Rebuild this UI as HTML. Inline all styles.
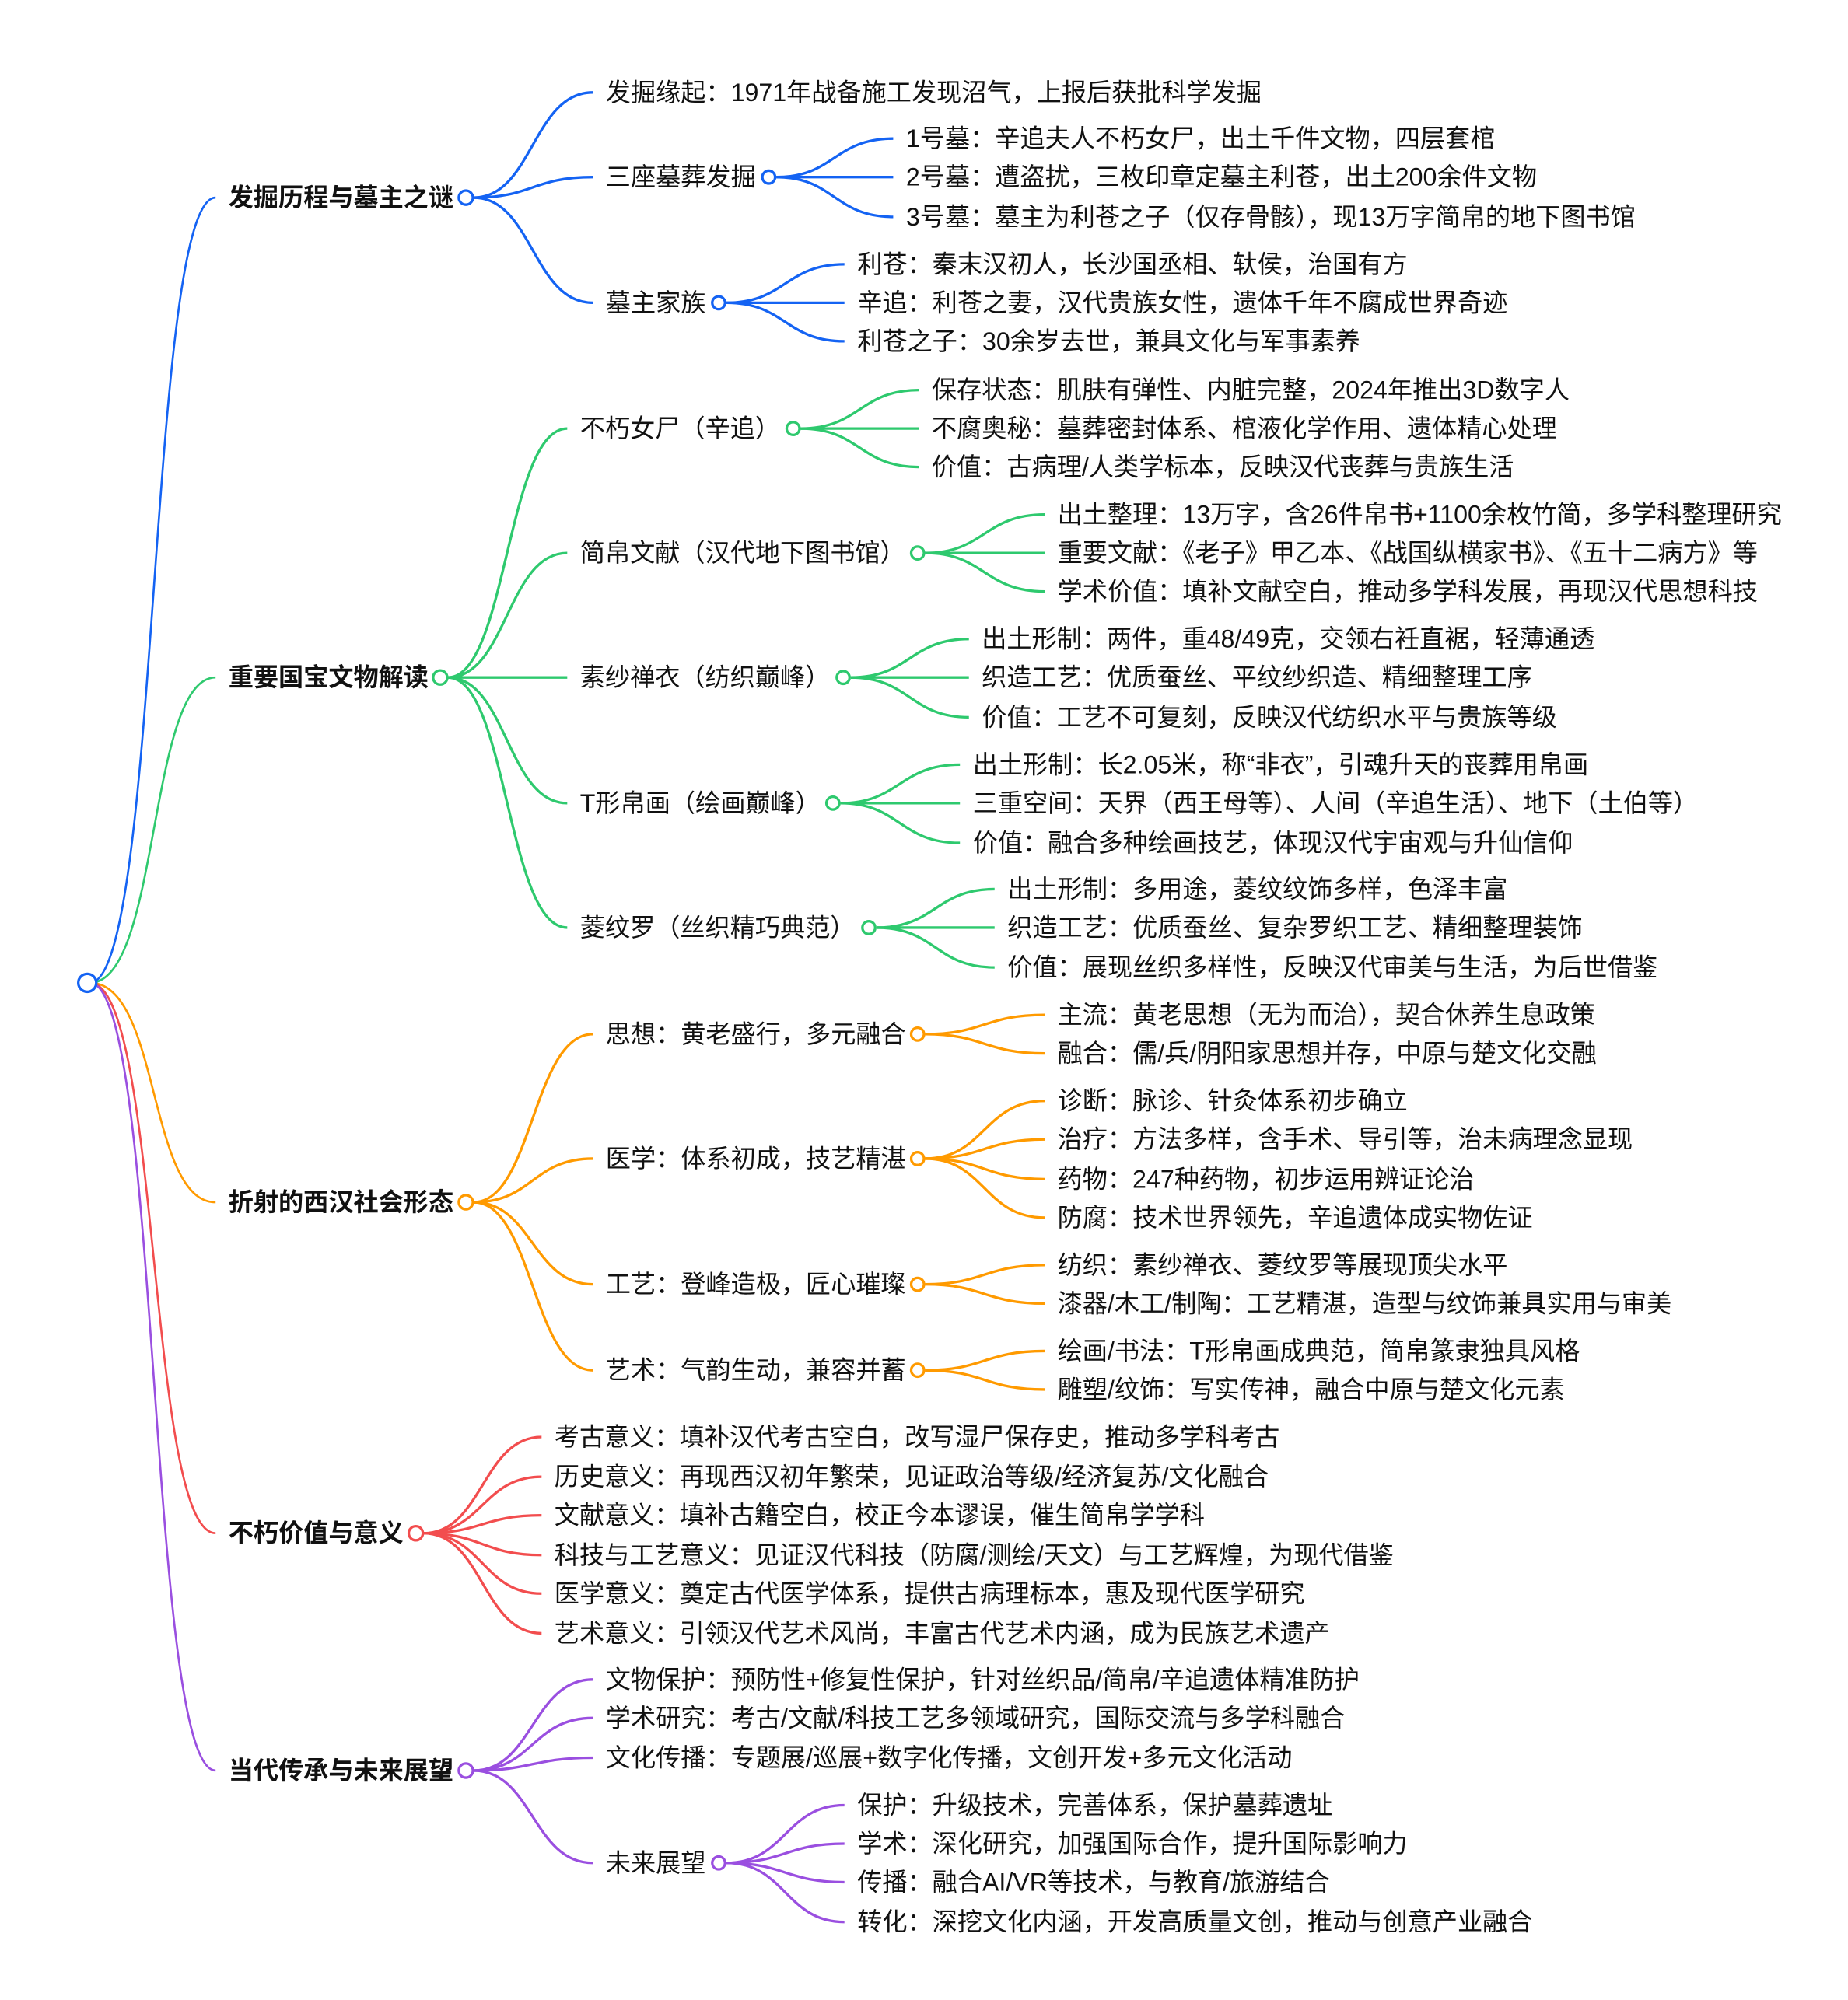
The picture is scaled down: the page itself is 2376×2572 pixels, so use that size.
<!DOCTYPE html>
<html><head><meta charset="utf-8"><style>
html,body{margin:0;padding:0;background:#fff;}
svg{display:block;}
text{font-family:"Liberation Sans","Noto Sans CJK SC",sans-serif;font-size:19.5px;fill:#111;dominant-baseline:central;}
.b{font-weight:bold;}
path{fill:none;}
.bl{stroke:#1463f3}.gr{stroke:#2ec96e}.or{stroke:#ff9a00}.rd{stroke:#f24d4e}.pu{stroke:#9a4fe0}
circle{fill:#fff;stroke-width:2;}
</style></head><body>
<svg width="2376" height="2572" viewBox="0 0 1440 1558.8" xmlns="http://www.w3.org/2000/svg">
<!-- root edges -->
<g stroke-width="1.6">
<path class="bl" d="M70 766 C125 766 115 154 168 154"/>
<path class="gr" d="M70 766 C125 766 115 528 168 528"/>
<path class="or" d="M70 766 C125 766 115 937 168 937"/>
<path class="rd" d="M70 766 C125 766 115 1195 168 1195"/>
<path class="pu" d="M70 766 C125 766 115 1380 168 1380"/>
</g>
<g stroke-width="2">
<!-- blue -->
<path class="bl" d="M369 154 C415 154 415 72 462 72"/>
<path class="bl" d="M369 154 C415 154 415 138 462 138"/>
<path class="bl" d="M369 154 C415 154 415 236 462 236"/>
<path class="bl" d="M605 138 C650 138 650 108 696 108"/>
<path class="bl" d="M605 138 C650 138 650 138 696 138"/>
<path class="bl" d="M605 138 C650 138 650 169 696 169"/>
<path class="bl" d="M566 236 C612 236 612 206 658 206"/>
<path class="bl" d="M566 236 C612 236 612 236 658 236"/>
<path class="bl" d="M566 236 C612 236 612 266 658 266"/>
<!-- green -->
<path class="gr" d="M349 528 C395 528 395 334 442 334"/>
<path class="gr" d="M349 528 C395 528 395 431 442 431"/>
<path class="gr" d="M349 528 C395 528 395 528 442 528"/>
<path class="gr" d="M349 528 C395 528 395 626 442 626"/>
<path class="gr" d="M349 528 C395 528 395 723 442 723"/>
<path class="gr" d="M624 334 C670 334 670 304 716 304"/>
<path class="gr" d="M624 334 C670 334 670 334 716 334"/>
<path class="gr" d="M624 334 C670 334 670 364 716 364"/>
<path class="gr" d="M721 431 C767 431 767 401 814 401"/>
<path class="gr" d="M721 431 C767 431 767 431 814 431"/>
<path class="gr" d="M721 431 C767 431 767 461 814 461"/>
<path class="gr" d="M663 528 C709 528 709 498 755 498"/>
<path class="gr" d="M663 528 C709 528 709 528 755 528"/>
<path class="gr" d="M663 528 C709 528 709 559 755 559"/>
<path class="gr" d="M655 626 C701 626 701 596 748 596"/>
<path class="gr" d="M655 626 C701 626 701 626 748 626"/>
<path class="gr" d="M655 626 C701 626 701 657 748 657"/>
<path class="gr" d="M683 723 C729 723 729 693 775 693"/>
<path class="gr" d="M683 723 C729 723 729 723 775 723"/>
<path class="gr" d="M683 723 C729 723 729 754 775 754"/>
<!-- orange -->
<path class="or" d="M369 937 C415 937 415 806 462 806"/>
<path class="or" d="M369 937 C415 937 415 903 462 903"/>
<path class="or" d="M369 937 C415 937 415 1001 462 1001"/>
<path class="or" d="M369 937 C415 937 415 1068 462 1068"/>
<path class="or" d="M721 806 C767 806 767 791 814 791"/>
<path class="or" d="M721 806 C767 806 767 821 814 821"/>
<path class="or" d="M721 903 C767 903 767 858 814 858"/>
<path class="or" d="M721 903 C767 903 767 888 814 888"/>
<path class="or" d="M721 903 C767 903 767 919 814 919"/>
<path class="or" d="M721 903 C767 903 767 949 814 949"/>
<path class="or" d="M721 1001 C767 1001 767 986 814 986"/>
<path class="or" d="M721 1001 C767 1001 767 1016 814 1016"/>
<path class="or" d="M721 1068 C767 1068 767 1053 814 1053"/>
<path class="or" d="M721 1068 C767 1068 767 1083 814 1083"/>
<!-- red -->
<path class="rd" d="M330 1195 C376 1195 376 1120 422 1120"/>
<path class="rd" d="M330 1195 C376 1195 376 1151 422 1151"/>
<path class="rd" d="M330 1195 C376 1195 376 1181 422 1181"/>
<path class="rd" d="M330 1195 C376 1195 376 1212 422 1212"/>
<path class="rd" d="M330 1195 C376 1195 376 1242 422 1242"/>
<path class="rd" d="M330 1195 C376 1195 376 1273 422 1273"/>
<!-- purple -->
<path class="pu" d="M369 1380 C415 1380 415 1309 462 1309"/>
<path class="pu" d="M369 1380 C415 1380 415 1339 462 1339"/>
<path class="pu" d="M369 1380 C415 1380 415 1370 462 1370"/>
<path class="pu" d="M369 1380 C415 1380 415 1452 462 1452"/>
<path class="pu" d="M566 1452 C612 1452 612 1407 658 1407"/>
<path class="pu" d="M566 1452 C612 1452 612 1437 658 1437"/>
<path class="pu" d="M566 1452 C612 1452 612 1467 658 1467"/>
<path class="pu" d="M566 1452 C612 1452 612 1498 658 1498"/>
</g>
<!-- circles -->
<circle cx="68" cy="766" r="7" stroke="#1463f3"/>
<circle cx="363" cy="154" r="5.5" stroke="#1463f3"/>
<circle cx="599" cy="138" r="5" stroke="#1463f3"/>
<circle cx="560" cy="236" r="5" stroke="#1463f3"/>
<circle cx="343" cy="528" r="5.5" stroke="#2ec96e"/>
<circle cx="618" cy="334" r="5" stroke="#2ec96e"/>
<circle cx="715" cy="431" r="5" stroke="#2ec96e"/>
<circle cx="657" cy="528" r="5" stroke="#2ec96e"/>
<circle cx="649" cy="626" r="5" stroke="#2ec96e"/>
<circle cx="677" cy="723" r="5" stroke="#2ec96e"/>
<circle cx="363" cy="937" r="5.5" stroke="#ff9a00"/>
<circle cx="715" cy="806" r="5" stroke="#ff9a00"/>
<circle cx="715" cy="903" r="5" stroke="#ff9a00"/>
<circle cx="715" cy="1001" r="5" stroke="#ff9a00"/>
<circle cx="715" cy="1068" r="5" stroke="#ff9a00"/>
<circle cx="324" cy="1195" r="5.5" stroke="#f24d4e"/>
<circle cx="363" cy="1380" r="5.5" stroke="#9a4fe0"/>
<circle cx="560" cy="1452" r="5" stroke="#9a4fe0"/>
<!-- level1 -->
<text class="b" x="178" y="154">发掘历程与墓主之谜</text>
<text class="b" x="178" y="528">重要国宝文物解读</text>
<text class="b" x="178" y="937">折射的西汉社会形态</text>
<text class="b" x="178" y="1195">不朽价值与意义</text>
<text class="b" x="178" y="1380">当代传承与未来展望</text>
<!-- blue texts -->
<text x="472" y="72">发掘缘起：1971年战备施工发现沼气，上报后获批科学发掘</text>
<text x="472" y="138">三座墓葬发掘</text>
<text x="472" y="236">墓主家族</text>
<text x="706" y="108">1号墓：辛追夫人不朽女尸，出土千件文物，四层套棺</text>
<text x="706" y="138">2号墓：遭盗扰，三枚印章定墓主利苍，出土200余件文物</text>
<text x="706" y="169">3号墓：墓主为利苍之子（仅存骨骸），现13万字简帛的地下图书馆</text>
<text x="668" y="206">利苍：秦末汉初人，长沙国丞相、轪侯，治国有方</text>
<text x="668" y="236">辛追：利苍之妻，汉代贵族女性，遗体千年不腐成世界奇迹</text>
<text x="668" y="266">利苍之子：30余岁去世，兼具文化与军事素养</text>
<!-- green texts -->
<text x="452" y="334">不朽女尸（辛追）</text>
<text x="452" y="431">简帛文献（汉代地下图书馆）</text>
<text x="452" y="528">素纱禅衣（纺织巅峰）</text>
<text x="452" y="626">T形帛画（绘画巅峰）</text>
<text x="452" y="723">菱纹罗（丝织精巧典范）</text>
<text x="726" y="304">保存状态：肌肤有弹性、内脏完整，2024年推出3D数字人</text>
<text x="726" y="334">不腐奥秘：墓葬密封体系、棺液化学作用、遗体精心处理</text>
<text x="726" y="364">价值：古病理/人类学标本，反映汉代丧葬与贵族生活</text>
<text x="824" y="401">出土整理：13万字，含26件帛书+1100余枚竹简，多学科整理研究</text>
<text x="824" y="431">重要文献：《老子》甲乙本、《战国纵横家书》、《五十二病方》等</text>
<text x="824" y="461">学术价值：填补文献空白，推动多学科发展，再现汉代思想科技</text>
<text x="765" y="498">出土形制：两件，重48/49克，交领右衽直裾，轻薄通透</text>
<text x="765" y="528">织造工艺：优质蚕丝、平纹纱织造、精细整理工序</text>
<text x="765" y="559">价值：工艺不可复刻，反映汉代纺织水平与贵族等级</text>
<text x="758" y="596">出土形制：长2.05米，称“非衣”，引魂升天的丧葬用帛画</text>
<text x="758" y="626">三重空间：天界（西王母等）、人间（辛追生活）、地下（土伯等）</text>
<text x="758" y="657">价值：融合多种绘画技艺，体现汉代宇宙观与升仙信仰</text>
<text x="785" y="693">出土形制：多用途，菱纹纹饰多样，色泽丰富</text>
<text x="785" y="723">织造工艺：优质蚕丝、复杂罗织工艺、精细整理装饰</text>
<text x="785" y="754">价值：展现丝织多样性，反映汉代审美与生活，为后世借鉴</text>
<!-- orange texts -->
<text x="472" y="806">思想：黄老盛行，多元融合</text>
<text x="472" y="903">医学：体系初成，技艺精湛</text>
<text x="472" y="1001">工艺：登峰造极，匠心璀璨</text>
<text x="472" y="1068">艺术：气韵生动，兼容并蓄</text>
<text x="824" y="791">主流：黄老思想（无为而治），契合休养生息政策</text>
<text x="824" y="821">融合：儒/兵/阴阳家思想并存，中原与楚文化交融</text>
<text x="824" y="858">诊断：脉诊、针灸体系初步确立</text>
<text x="824" y="888">治疗：方法多样，含手术、导引等，治未病理念显现</text>
<text x="824" y="919">药物：247种药物，初步运用辨证论治</text>
<text x="824" y="949">防腐：技术世界领先，辛追遗体成实物佐证</text>
<text x="824" y="986">纺织：素纱禅衣、菱纹罗等展现顶尖水平</text>
<text x="824" y="1016">漆器/木工/制陶：工艺精湛，造型与纹饰兼具实用与审美</text>
<text x="824" y="1053">绘画/书法：T形帛画成典范，简帛篆隶独具风格</text>
<text x="824" y="1083">雕塑/纹饰：写实传神，融合中原与楚文化元素</text>
<!-- red texts -->
<text x="432" y="1120">考古意义：填补汉代考古空白，改写湿尸保存史，推动多学科考古</text>
<text x="432" y="1151">历史意义：再现西汉初年繁荣，见证政治等级/经济复苏/文化融合</text>
<text x="432" y="1181">文献意义：填补古籍空白，校正今本谬误，催生简帛学学科</text>
<text x="432" y="1212">科技与工艺意义：见证汉代科技（防腐/测绘/天文）与工艺辉煌，为现代借鉴</text>
<text x="432" y="1242">医学意义：奠定古代医学体系，提供古病理标本，惠及现代医学研究</text>
<text x="432" y="1273">艺术意义：引领汉代艺术风尚，丰富古代艺术内涵，成为民族艺术遗产</text>
<!-- purple texts -->
<text x="472" y="1309">文物保护：预防性+修复性保护，针对丝织品/简帛/辛追遗体精准防护</text>
<text x="472" y="1339">学术研究：考古/文献/科技工艺多领域研究，国际交流与多学科融合</text>
<text x="472" y="1370">文化传播：专题展/巡展+数字化传播，文创开发+多元文化活动</text>
<text x="472" y="1452">未来展望</text>
<text x="668" y="1407">保护：升级技术，完善体系，保护墓葬遗址</text>
<text x="668" y="1437">学术：深化研究，加强国际合作，提升国际影响力</text>
<text x="668" y="1467">传播：融合AI/VR等技术，与教育/旅游结合</text>
<text x="668" y="1498">转化：深挖文化内涵，开发高质量文创，推动与创意产业融合</text>
</svg>
</body></html>
